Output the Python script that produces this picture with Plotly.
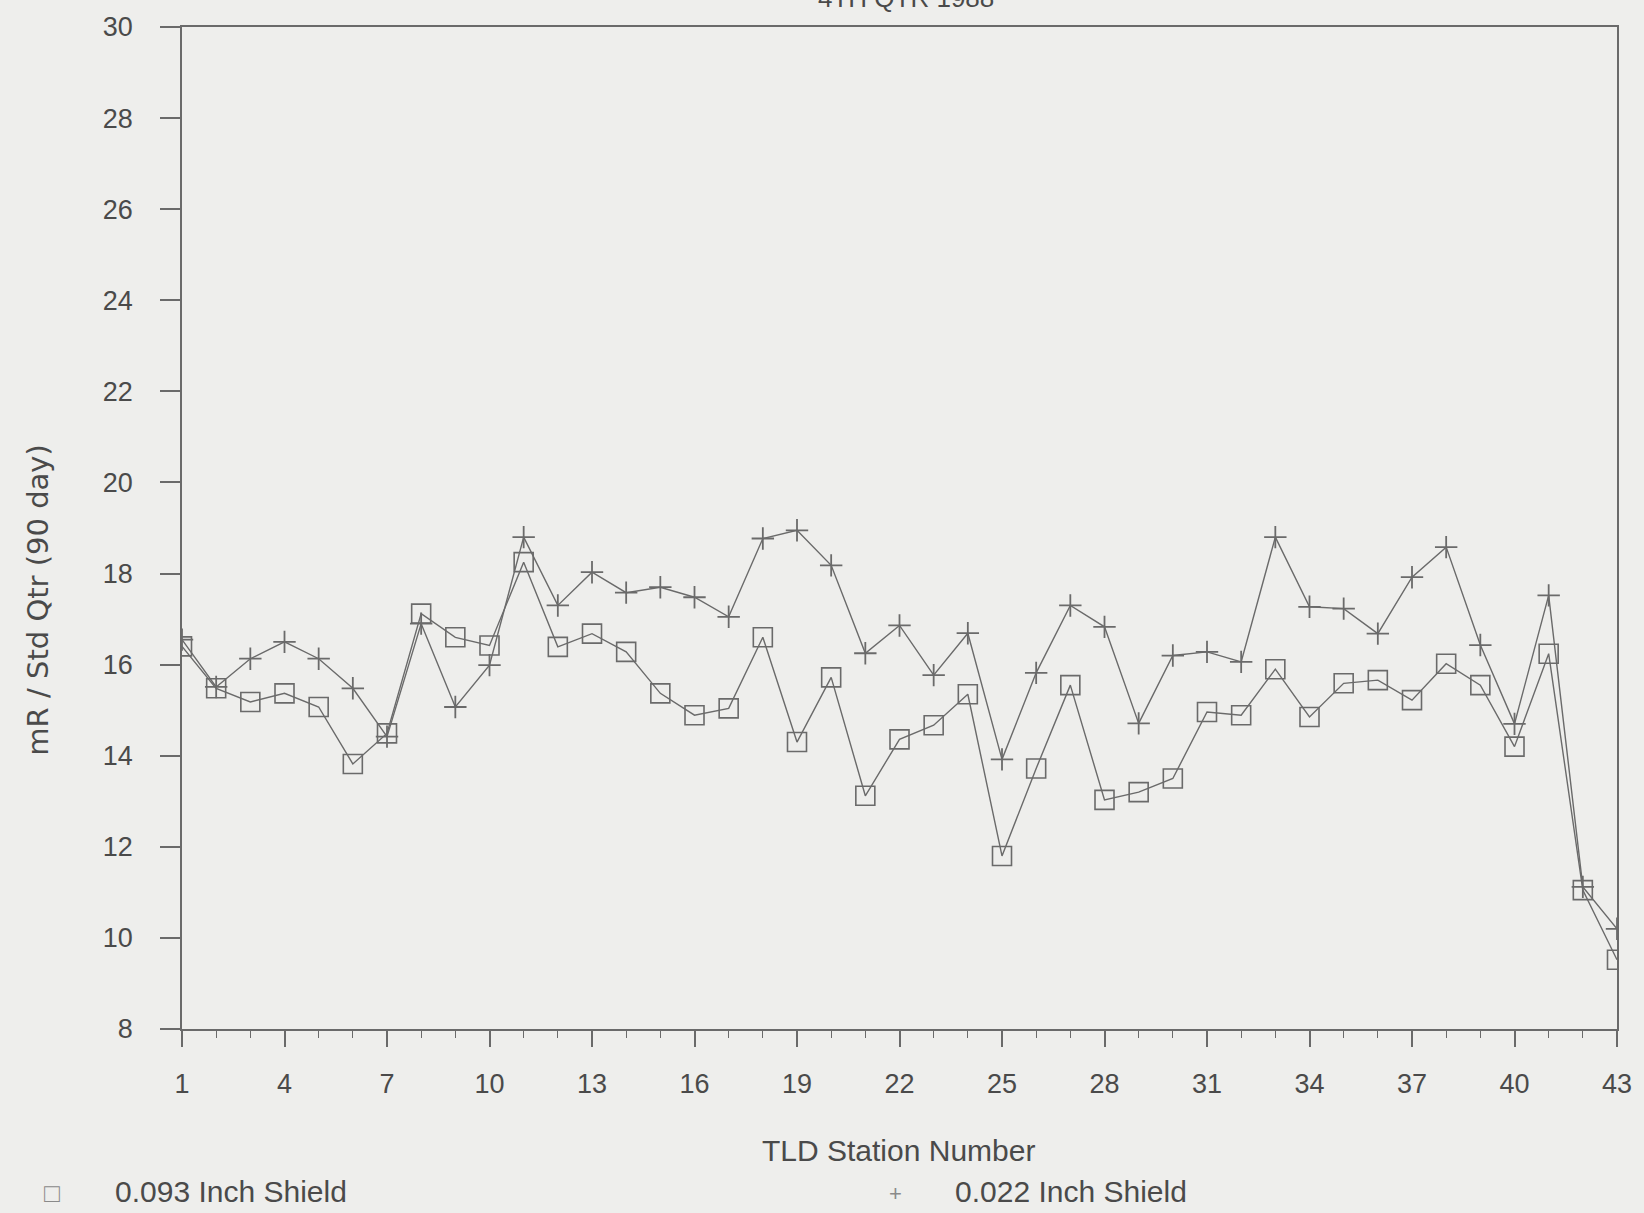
import plotly.graph_objects as go

stations = list(range(1, 44))

shield_093 = [16.4, 15.48, 15.18, 15.37, 15.07, 13.82, 14.49, 17.12, 16.6, 16.42,
              18.25, 16.39, 16.68, 16.28, 15.37, 14.89, 15.04, 16.6, 14.3, 15.72,
              13.12, 14.36, 14.67, 15.35, 11.8, 13.72, 15.55, 13.03, 13.2, 13.5,
              14.96, 14.89, 15.9, 14.85, 15.59, 15.66, 15.22, 16.02, 15.55, 14.2,
              16.24, 11.05, 9.52]

shield_022 = [16.55, 15.51, 16.13, 16.5, 16.13, 15.48, 14.42, 16.9, 15.07, 15.99,
              18.8, 17.3, 18.03, 17.58, 17.7, 17.48, 17.05, 18.77, 18.95, 18.18,
              16.25, 16.86, 15.77, 16.69, 13.92, 15.82, 17.3, 16.83, 14.71, 16.2,
              16.28, 16.06, 18.8, 17.27, 17.23, 16.68, 17.92, 18.58, 16.43, 14.7,
              17.52, 11.12, 10.2]

x_tickvals = [1, 4, 7, 10, 13, 16, 19, 22, 25, 28, 31, 34, 37, 40, 43]
y_tickvals = [8, 10, 12, 14, 16, 18, 20, 22, 24, 26, 28, 30]

title_text = "4TH QTR 1988"
x_title = "TLD Station Number"
y_title = "mR / Std Qtr (90 day)"
legend_names = ["0.093 Inch Shield", "0.022 Inch Shield"]

line_col = "#6a6a6a"
text_col = "#4a4a4a"
bg = "#eeeeec"
sans = "Liberation Sans, Arial"

fig = go.Figure()
fig.add_trace(go.Scatter(
    x=stations, y=shield_093, mode="lines+markers", name=legend_names[0],
    line=dict(color=line_col, width=1.4),
    marker=dict(symbol="square-open", size=19, color=line_col, line=dict(width=1.6, color=line_col)),
    showlegend=False))
fig.add_trace(go.Scatter(
    x=stations, y=shield_022, mode="lines+markers", name=legend_names[1],
    line=dict(color=line_col, width=1.4),
    marker=dict(symbol="cross-thin-open", size=16, color=line_col, line=dict(width=1.8, color=line_col)),
    showlegend=False))

W, H = 1644, 1213
L, R, T, B = 182, 25, 26, 184
pw, ph = W - L - R, H - T - B

def px(xp):
    return (xp - L) / pw

def py(yp):
    return (H - B - yp) / ph

fig.update_layout(
    width=W, height=H,
    margin=dict(l=L, r=R, t=T, b=B),
    paper_bgcolor=bg, plot_bgcolor=bg,
    font=dict(family=sans, color=text_col),
    xaxis=dict(
        range=[1, 43], tickvals=x_tickvals, ticktext=[str(v) for v in x_tickvals],
        showgrid=False, zeroline=False, showline=True, linecolor=line_col, linewidth=1.5,
        mirror=True, ticks="outside", ticklen=16, tickwidth=1.5, tickcolor=line_col,
        tickfont=dict(size=27, color=text_col), ticklabelstandoff=14,
        minor=dict(dtick=1, ticks="outside", ticklen=7, tickwidth=1.2, tickcolor=line_col),
    ),
    yaxis=dict(
        range=[8, 30], tickvals=y_tickvals,
        showgrid=False, zeroline=False, showline=True, linecolor=line_col, linewidth=1.5,
        mirror=True, ticks="outside", ticklen=20, tickwidth=1.5, tickcolor=line_col,
        tickfont=dict(size=27, color=text_col), ticklabelstandoff=22,
    ),
)

annotations = [
    dict(text=title_text, x=px(907), y=py(14), xref="paper", yref="paper",
         xanchor="center", yanchor="bottom", showarrow=False,
         font=dict(size=26, color=text_col, family=sans)),
    dict(text=y_title, x=px(38), y=py(600), xref="paper", yref="paper",
         xanchor="center", yanchor="middle", textangle=-90, showarrow=False,
         font=dict(size=29, color=text_col, family="DejaVu Sans, Liberation Sans")),
    dict(text=x_title, x=px(899), y=py(1151), xref="paper", yref="paper",
         xanchor="center", yanchor="middle", showarrow=False,
         font=dict(size=30, color=text_col, family=sans)),
    dict(text="\u25a1", x=px(52), y=py(1193), xref="paper", yref="paper",
         xanchor="center", yanchor="middle", showarrow=False,
         font=dict(size=26, color="#8a8a8a")),
    dict(text=legend_names[0], x=px(113), y=py(1192), xref="paper", yref="paper",
         xanchor="left", yanchor="middle", showarrow=False,
         font=dict(size=30, color=text_col, family=sans)),
    dict(text="+", x=px(896), y=py(1194), xref="paper", yref="paper",
         xanchor="center", yanchor="middle", showarrow=False,
         font=dict(size=22, color="#8a8a8a")),
    dict(text=legend_names[1], x=px(954), y=py(1192), xref="paper", yref="paper",
         xanchor="left", yanchor="middle", showarrow=False,
         font=dict(size=30, color=text_col, family=sans)),
]
fig.update_layout(annotations=annotations)

fig.write_html(
    "out.html",
    config={"displayModeBar": False},
    post_script="document.body.style.margin='0';document.body.style.background='#eeeeec';"
                "document.documentElement.style.overflow='hidden';",
)
